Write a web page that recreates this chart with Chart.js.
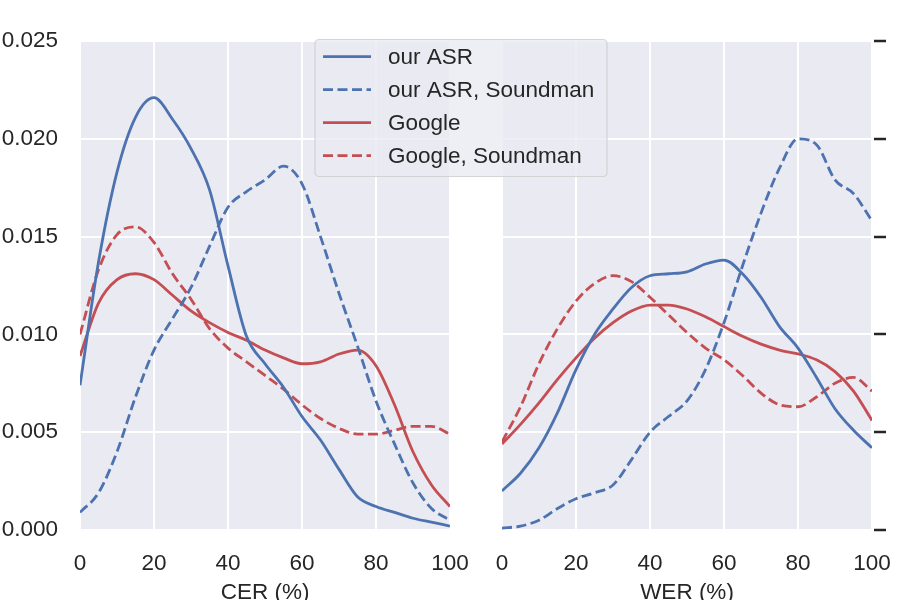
<!DOCTYPE html>
<html>
<head>
<meta charset="utf-8">
<script src="https://cdn.jsdelivr.net/npm/chart.js@4.4.0/dist/chart.umd.min.js"></script>
<style>
  html, body { margin: 0; padding: 0; background: #ffffff; }
  #wrap { position: relative; width: 900px; height: 600px; }
  #wrap canvas { position: absolute; left: 0; top: 0; }
</style>
</head>
<body>
<div id="wrap">
  <canvas id="werChart" width="900" height="600"></canvas>
  <canvas id="cerChart" width="900" height="600"></canvas>
</div>
<script>
// ---------------------------------------------------------------------------
// Data: density of error rates at every 5 %
// ---------------------------------------------------------------------------
const ERROR_PCT = [0, 5, 10, 15, 20, 25, 30, 35, 40, 45, 50, 55, 60, 65, 70, 75, 80, 85, 90, 95, 100];

const SERIES_LABELS = ["our ASR", "our ASR, Soundman", "Google", "Google, Soundman"];

// CER (left panel)
const CER_OUR_ASR = [0.0074, 0.0137, 0.0183, 0.0211, 0.0221, 0.0210, 0.0195, 0.0174, 0.0135, 0.0099, 0.0085,
  0.0073, 0.0058, 0.0046, 0.0031, 0.0017, 0.0012, 0.0009, 0.0006, 0.0004, 0.0002];
const CER_OUR_ASR_SOUNDMAN = [0.0009, 0.0019, 0.0040, 0.0068, 0.0092, 0.0108, 0.0124, 0.0145, 0.0165, 0.0173, 0.0179,
  0.0186, 0.0177, 0.0150, 0.0121, 0.0094, 0.0066, 0.0044, 0.0024, 0.0011, 0.0005];
const CER_GOOGLE = [0.0089, 0.0116, 0.0128, 0.0131, 0.0128, 0.0120, 0.0112, 0.0106, 0.0101, 0.0097, 0.0092,
  0.0088, 0.0085, 0.0086, 0.0090, 0.0092, 0.0084, 0.0064, 0.0040, 0.0023, 0.0012];
const CER_GOOGLE_SOUNDMAN = [0.0100, 0.0133, 0.0151, 0.0155, 0.0147, 0.0131, 0.0118, 0.0103, 0.0093, 0.0086, 0.0079,
  0.0072, 0.0064, 0.0057, 0.0052, 0.0049, 0.0049, 0.0051, 0.0053, 0.0053, 0.0049];

// WER (right panel)
const WER_OUR_ASR = [0.0020, 0.0029, 0.0042, 0.0060, 0.0082, 0.0100, 0.0113, 0.0124, 0.0130, 0.0131, 0.0132,
  0.0136, 0.0138, 0.0131, 0.0119, 0.0104, 0.0093, 0.0078, 0.0062, 0.0051, 0.0042];
const WER_OUR_ASR_SOUNDMAN = [0.0001, 0.0002, 0.0005, 0.0011, 0.0016, 0.0019, 0.0023, 0.0036, 0.0050, 0.0058, 0.0066,
  0.0082, 0.0106, 0.0135, 0.0162, 0.0185, 0.0200, 0.0197, 0.0179, 0.0172, 0.0158];
const WER_GOOGLE = [0.0044, 0.0054, 0.0065, 0.0077, 0.0088, 0.0098, 0.0106, 0.0112, 0.0115, 0.0115, 0.0113,
  0.0109, 0.0104, 0.0099, 0.0095, 0.0092, 0.0090, 0.0087, 0.0081, 0.0071, 0.0056];
const WER_GOOGLE_SOUNDMAN = [0.0045, 0.0063, 0.0085, 0.0103, 0.0117, 0.0126, 0.0130, 0.0127, 0.0119, 0.0110, 0.0101,
  0.0093, 0.0087, 0.0079, 0.0070, 0.0064, 0.0063, 0.0068, 0.0075, 0.0078, 0.0071];

const X_MIN = 0, X_MAX = 100, X_STEP = 20;
const Y_MIN = 0, Y_MAX = 0.025, Y_STEP = 0.005;

// ---------------------------------------------------------------------------
// Styling (seaborn darkgrid look)
// ---------------------------------------------------------------------------
const BLUE = "#4c72b0";
const RED = "#c44e52";
const PANEL_BG = "#eaeaf2";
const TEXT = "#262626";
const FONT = { family: '"Liberation Sans", Arial, sans-serif', size: 22.5 };
const DASH = [10, 4.5];
const LINE_W = 2.8;

const STYLES = [
  { color: BLUE, dash: [] },
  { color: BLUE, dash: DASH },
  { color: RED, dash: [] },
  { color: RED, dash: DASH },
];

function makeDatasets(seriesList) {
  return seriesList.map((values, i) => ({
    label: SERIES_LABELS[i],
    data: ERROR_PCT.map((x, j) => ({ x, y: values[j] })),
    borderColor: STYLES[i].color,
    borderDash: STYLES[i].dash,
    borderWidth: LINE_W,
    pointRadius: 0,
    fill: false,
    cubicInterpolationMode: "monotone",
  }));
}

// Panel background behind the grid
const panelBackground = {
  id: "panelBackground",
  beforeDraw(chart) {
    const { ctx, chartArea: a } = chart;
    ctx.save();
    ctx.fillStyle = PANEL_BG;
    ctx.fillRect(a.left, a.top, a.right - a.left, a.bottom - a.top);
    ctx.restore();
  },
};

// Matplotlib-style legend box; it spills over the gap into the right panel,
// so it is drawn on the top (left-panel) canvas.
const legendBox = {
  id: "legendBox",
  afterDraw(chart) {
    const ctx = chart.ctx;
    const x = 315, y = 39.5, w = 292, h = 137;
    ctx.save();
    ctx.beginPath();
    ctx.roundRect(x, y, w, h, 4);
    ctx.fillStyle = "rgba(234,234,242,0.8)";
    ctx.fill();
    ctx.lineWidth = 1.2;
    ctx.strokeStyle = "rgba(204,204,204,0.8)";
    ctx.stroke();

    ctx.font = `${FONT.size}px ${FONT.family}`;
    ctx.textBaseline = "middle";
    ctx.textAlign = "left";
    chart.data.datasets.forEach((ds, i) => {
      const cy = y + 17.2 + i * 33;
      ctx.beginPath();
      ctx.setLineDash(ds.borderDash);
      ctx.strokeStyle = ds.borderColor;
      ctx.lineWidth = LINE_W;
      ctx.moveTo(x + 8, cy);
      ctx.lineTo(x + 56, cy);
      ctx.stroke();
      ctx.setLineDash([]);
      ctx.fillStyle = TEXT;
      ctx.fillText(ds.label, x + 73, cy + 1);
    });
    ctx.restore();
  },
};

function xScale(title) {
  return {
    type: "linear",
    min: X_MIN,
    max: X_MAX,
    ticks: { stepSize: X_STEP, padding: 20.5, color: TEXT, font: FONT, maxRotation: 0 },
    grid: { color: "#ffffff", lineWidth: 2, drawTicks: false },
    border: { display: false },
    title: { display: true, text: title, color: TEXT, font: FONT, padding: { top: 0, bottom: -6 } },
    afterFit: (s) => {
      s.height = 70;
      s.paddingLeft = 0;
      s.paddingRight = 0;
    },
  };
}

const commonOptions = {
  responsive: false,
  animation: false,
  plugins: { legend: { display: false }, tooltip: { enabled: false } },
};

// Left panel: CER
new Chart(document.getElementById("cerChart"), {
  type: "line",
  data: { datasets: makeDatasets([CER_OUR_ASR, CER_OUR_ASR_SOUNDMAN, CER_GOOGLE, CER_GOOGLE_SOUNDMAN]) },
  options: {
    ...commonOptions,
    layout: { padding: { left: 0, right: 450, top: 41, bottom: 0 } },
    scales: {
      x: xScale("CER (%)"),
      y: {
        min: Y_MIN,
        max: Y_MAX,
        ticks: { stepSize: Y_STEP, padding: 22, color: TEXT, font: FONT, callback: (v) => v.toFixed(3) },
        grid: { color: "#ffffff", lineWidth: 2, drawTicks: false },
        border: { display: false },
        afterFit: (s) => { s.width = 80; },
      },
    },
  },
  plugins: [panelBackground, legendBox],
});

// Right panel: WER (shares y; only tick marks on the right edge)
new Chart(document.getElementById("werChart"), {
  type: "line",
  data: { datasets: makeDatasets([WER_OUR_ASR, WER_OUR_ASR_SOUNDMAN, WER_GOOGLE, WER_GOOGLE_SOUNDMAN]) },
  options: {
    ...commonOptions,
    layout: { padding: { left: 502, right: 0, top: 41, bottom: 0 } },
    scales: {
      x: xScale("WER (%)"),
      y: {
        position: "right",
        min: Y_MIN,
        max: Y_MAX,
        ticks: { stepSize: Y_STEP, display: false },
        grid: {
          color: "#ffffff",
          lineWidth: 2,
          drawTicks: true,
          tickLength: 14,
          tickColor: TEXT,
          tickWidth: 2.5,
          tickBorderDash: [0, 2, 12, 20],
        },
        border: { display: false },
        afterFit: (s) => { s.width = 28; },
      },
    },
  },
  plugins: [panelBackground],
});
</script>
</body>
</html>
